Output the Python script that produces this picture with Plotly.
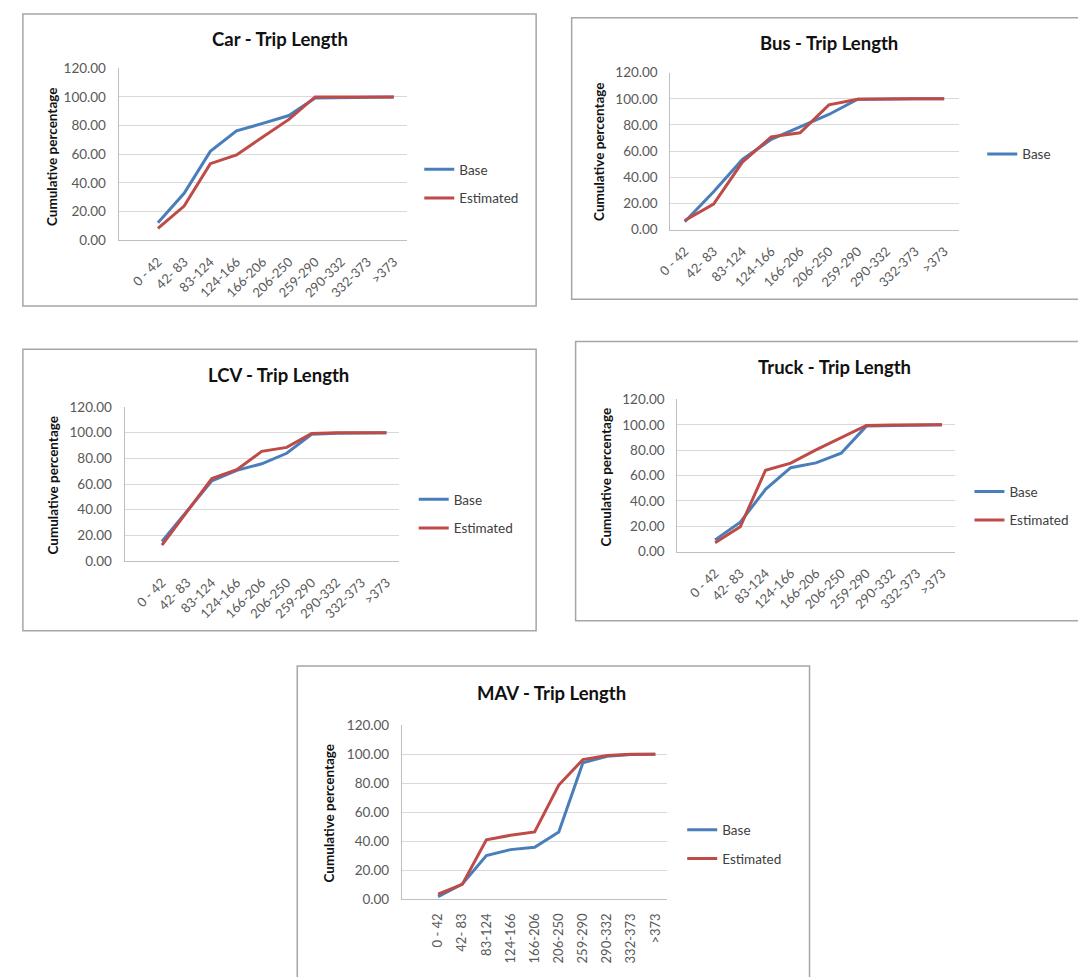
import plotly.graph_objects as go

W, H = 1078, 977

categories = ["0 - 42", "42- 83", "83-124", "124-166", "166-206", "206-250",
              "259-290", "290-332", "332-373", ">373"]
y_ticks = [0, 20, 40, 60, 80, 100, 120]
series_names = ["Base", "Estimated"]

car_base = [12.1, 32.7, 62.0, 76.3, 81.5, 87.0, 99.3, 99.7, 100.0, 100.0]
car_est = [8.2, 23.8, 53.4, 59.5, 72.0, 84.3, 100.0, 100.0, 100.0, 100.0]
bus_base = [6.0, 29.0, 53.6, 69.0, 78.6, 88.0, 99.7, 100.0, 100.0, 100.0]
bus_est = [7.0, 19.5, 51.6, 70.9, 74.0, 95.4, 99.7, 100.0, 100.0, 100.0]
lcv_base = [15.3, 38.8, 62.5, 70.7, 75.8, 84.0, 98.8, 99.6, 100.0, 100.0]
lcv_est = [12.5, 38.0, 64.3, 71.2, 85.5, 88.6, 99.4, 100.0, 100.0, 100.0]
truck_base = [9.3, 23.3, 49.1, 66.2, 70.0, 77.6, 99.0, 99.5, 100.0, 100.0]
truck_est = [7.0, 19.7, 64.2, 69.8, 80.2, 90.0, 99.5, 99.8, 100.0, 100.0]
mav_base = [1.8, 10.4, 30.1, 34.2, 35.8, 46.4, 94.2, 98.7, 99.8, 100.0]
mav_est = [3.4, 10.2, 41.0, 44.1, 46.4, 78.8, 96.4, 99.2, 100.0, 100.0]

titles = ["Car - Trip Length", "Bus - Trip Length", "LCV - Trip Length",
          "Truck - Trip Length", "MAV - Trip Length"]
y_title = "Cumulative percentage"

BLUE = "#4a7ebb"
RED = "#be4b48"
FONT = "Lato"

# layout geometry in pixels
panels = [
    dict(title=titles[0], base=car_base, est=car_est, plot=(106, 398, 61.3, 236),
         box=(9, 529, 6, 303), tpos=(269, 32), leg=(420.6, 160.5), ypos=(38, 151),
         xr=[-1.5, 9.5], angle=-45, est_leg=True),
    dict(title=titles[1], base=bus_base, est=bus_est, plot=(665, 957, 65.7, 225.3),
         box=(565, 1100, 10, 296), tpos=(826, 36), leg=(991, 145), ypos=(592, 146),
         xr=[-0.5, 9.5], angle=-45, est_leg=False),
    dict(title=titles[2], base=lcv_base, est=lcv_est, plot=(112, 390, 405.7, 562.3),
         box=(9, 529, 347, 633), tpos=(268, 373), leg=(415, 496), ypos=(40, 485),
         xr=[-1.5, 9.5], angle=-45, est_leg=True),
    dict(title=titles[3], base=truck_base, est=truck_est, plot=(672, 953, 398, 552.7),
         box=(569, 1100, 339, 623), tpos=(831, 365), leg=(978, 488), ypos=(600, 477),
         xr=[-1.5, 9.5], angle=-45, est_leg=True),
    dict(title=titles[4], base=mav_base, est=mav_est, plot=(393, 662, 729.3, 906),
         box=(287, 806, 669, 1000), tpos=(545, 696), leg=(687, 832), ypos=(319, 818),
         xr=[-1.5, 9.5], angle=-90, est_leg=True),
]

LEG_DX = 10
LEG_DY = 12


def px(x):
    return x / W


def py(y):
    return 1 - y / H


fig = go.Figure()
shapes = []
annotations = []
layout = {}

for i, p in enumerate(panels):
    n = i + 1
    sfx = "" if n == 1 else str(n)
    xa, ya = "x" + sfx, "y" + sfx
    leg = "legend" + sfx
    for name, vals, col, show in [(series_names[0], p["base"], BLUE, True),
                                  (series_names[1], p["est"], RED, p["est_leg"])]:
        fig.add_trace(go.Scatter(
            x=categories, y=vals, mode="lines", name=name,
            line=dict(color=col, width=3),
            xaxis=xa, yaxis=ya, legend=leg, showlegend=show,
            legendgroup=f"{name}{n}", hoverinfo="x+y"))
    x0, x1, y0, y1 = p["plot"]
    layout["xaxis" + sfx] = dict(
        domain=[px(x0), px(x1)], anchor=ya, type="category",
        categoryorder="array", categoryarray=categories, range=p["xr"],
        showgrid=False, showline=True, linecolor="#bfbfbf", linewidth=1,
        tickangle=p["angle"], tickfont=dict(family=FONT, size=13, color="#595959"),
        ticks="", ticklabelstandoff=8, fixedrange=True)
    layout["yaxis" + sfx] = dict(
        domain=[py(y1), py(y0)], anchor=xa, range=[0, 120], tickvals=y_ticks,
        tickformat=".2f", showgrid=True, gridcolor="#d9d9d9", gridwidth=1,
        showline=True, linecolor="#bfbfbf", linewidth=1, zeroline=False,
        tickfont=dict(family=FONT, size=13.5, color="#595959"),
        ticks="", ticklabelstandoff=9, fixedrange=True)
    lx, ly = p["leg"]
    layout[leg] = dict(
        x=px(lx - LEG_DX), y=py(ly - LEG_DY), xanchor="left", yanchor="top",
        bgcolor="rgba(0,0,0,0)", borderwidth=0, tracegroupgap=8,
        font=dict(family=FONT, size=13.5, color="#404040"), itemclick=False,
        itemdoubleclick=False)
    bx0, bx1, by0, by1 = p["box"]
    shapes.append(dict(type="rect", xref="paper", yref="paper",
                       x0=px(bx0), x1=px(bx1), y0=py(by1), y1=py(by0),
                       line=dict(color="#a6a6a6", width=1.5), layer="below"))
    tx, ty = p["tpos"]
    annotations.append(dict(text=f"<b>{p['title']}</b>", x=px(tx), y=py(ty),
                            xref="paper", yref="paper", showarrow=False,
                            xanchor="center", yanchor="middle",
                            font=dict(family=FONT, size=18.5, color="#111111")))
    yx, yy = p["ypos"]
    annotations.append(dict(text=f"<b>{y_title}</b>", x=px(yx), y=py(yy),
                            xref="paper", yref="paper", showarrow=False,
                            textangle=-90, xanchor="center", yanchor="middle",
                            font=dict(family=FONT, size=13.5, color="#111111")))

fig.update_layout(
    width=W, height=H, margin=dict(l=0, r=0, t=0, b=0),
    paper_bgcolor="white", plot_bgcolor="white",
    shapes=shapes, annotations=annotations, **layout)

fig.write_html("out.html", post_script="document.body.style.margin='0';",
               config={"displayModeBar": False})
